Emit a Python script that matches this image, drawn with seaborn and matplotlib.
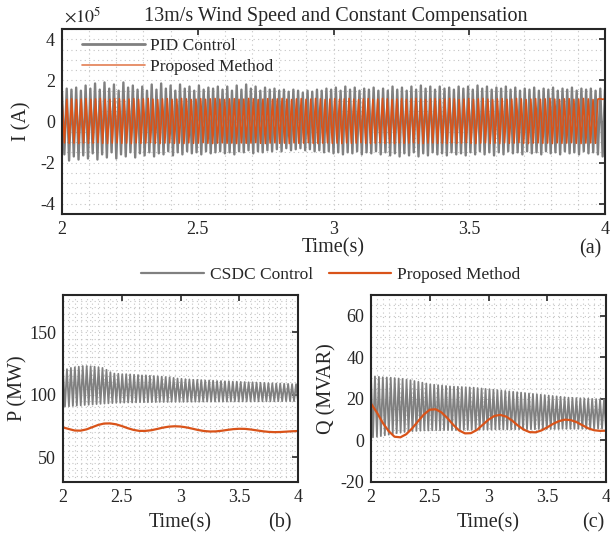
import numpy as np
import pandas as pd
import matplotlib
matplotlib.use("Agg")
import matplotlib.pyplot as plt
import seaborn as sns
from itertools import zip_longest
from matplotlib.ticker import MultipleLocator, FormatStrFormatter

# ---- data (peaks / troughs of each oscillation) ----
# (a) line current, units of 1e5 A, one peak and one trough per cycle
i_pid_hi = [1.45, 1.6, 1.55, 1.65, 1.5, 1.75, 1.6, 1.85, 1.55, 1.9, 1.6, 1.8, 1.5, 1.9, 1.65, 1.75, 1.55,
            1.7, 1.5, 1.8, 1.55, 1.85, 1.6, 1.75, 1.5, 1.8, 1.6, 1.7, 1.5, 1.75, 1.55, 1.65, 1.6, 1.7,
            1.55, 1.7, 1.5, 1.75, 1.55, 1.8, 1.6, 1.7, 1.5, 1.65, 1.55, 1.6, 1.5, 1.55, 1.45, 1.55, 1.5,
            1.4, 1.5, 1.45, 1.55, 1.5, 1.6, 1.55, 1.65, 1.5, 1.7, 1.55, 1.65, 1.5, 1.6, 1.55, 1.65, 1.5,
            1.6, 1.5, 1.7, 1.55, 1.65, 1.5, 1.7, 1.55, 1.75, 1.6, 1.7, 1.55, 1.7, 1.6, 1.65, 1.55, 1.7,
            1.6, 1.7, 1.55, 1.75, 1.6, 1.7, 1.55, 1.65, 1.6, 1.7, 1.55, 1.65, 1.5, 1.6, 1.55, 1.65, 1.5,
            1.6, 1.55, 1.65, 1.5, 1.6, 1.55, 1.65, 1.5, 1.6, 1.55, 1.6, 1.5, 1.6, 1.55]
i_pid_lo = [-1.6, -1.9, -1.7, -1.85, -1.65, -1.8, -1.55, -1.85, -1.6, -1.75, -1.5, -1.8, -1.6, -1.7, -1.5, -1.75, -1.55,
            -1.65, -1.5, -1.7, -1.55, -1.6, -1.45, -1.65, -1.5, -1.6, -1.45, -1.55, -1.5, -1.6, -1.45, -1.55, -1.5,
            -1.45, -1.55, -1.5, -1.6, -1.45, -1.5, -1.4, -1.55, -1.45, -1.5, -1.4, -1.45, -1.35, -1.45, -1.3, -1.4, -1.35,
            -1.3, -1.4, -1.35, -1.45, -1.4, -1.5, -1.45, -1.55, -1.5, -1.6, -1.5, -1.55, -1.45, -1.6, -1.5, -1.55, -1.45,
            -1.6, -1.5, -1.65, -1.55, -1.7, -1.55, -1.65, -1.5, -1.7, -1.55, -1.65, -1.5, -1.6, -1.55, -1.65, -1.5, -1.6,
            -1.55, -1.65, -1.5, -1.6, -1.45, -1.6, -1.5, -1.65, -1.5, -1.6, -1.45, -1.55, -1.5, -1.6, -1.45, -1.55, -1.5,
            -1.6, -1.45, -1.55, -1.5, -1.6, -1.45, -1.55, -1.5, -1.6, -1.45, -1.55, -1.5, -1.6, -1.7]
i_prop_hi = [1.05, 1.08, 1.10, 1.07, 1.09, 1.11, 1.08, 1.10, 1.12, 1.09, 1.08, 1.11, 1.10, 1.07, 1.09, 1.11, 1.08,
             1.10, 1.12, 1.09, 1.07, 1.10, 1.11, 1.08, 1.09, 1.12, 1.10, 1.07, 1.09, 1.11, 1.08, 1.10, 1.12, 1.09,
             1.07, 1.10, 1.11, 1.08, 1.09, 1.12, 1.10, 1.07, 1.09, 1.11, 1.08, 1.10, 1.12, 1.09, 1.07, 1.10, 1.11,
             1.08, 1.09, 1.12, 1.10, 1.07, 1.09, 1.11, 1.08, 1.10, 1.12, 1.09, 1.07, 1.10, 1.11, 1.08, 1.09, 1.12,
             1.10, 1.07, 1.09, 1.11, 1.08, 1.10, 1.12, 1.09, 1.07, 1.10, 1.11, 1.08, 1.09, 1.12, 1.10, 1.07, 1.09,
             1.11, 1.08, 1.10, 1.12, 1.09, 1.07, 1.10, 1.11, 1.08, 1.09, 1.12, 1.10, 1.07, 1.09, 1.11, 1.08, 1.10,
             1.12, 1.09, 1.07, 1.10, 1.11, 1.08, 1.09, 1.12, 1.10, 1.07, 1.09, 1.11, 1.08, 1.10]
i_prop_lo = [-1.04, -1.06, -1.05, -1.07, -1.04, -1.06, -1.05, -1.03, -1.06, -1.07, -1.05, -1.04, -1.06, -1.05, -1.07, -1.04, -1.06,
             -1.05, -1.03, -1.06, -1.07, -1.05, -1.04, -1.06, -1.05, -1.07, -1.04, -1.06, -1.05, -1.03, -1.06, -1.07, -1.05,
             -1.04, -1.06, -1.05, -1.07, -1.04, -1.06, -1.05, -1.03, -1.06, -1.07, -1.05, -1.04, -1.06, -1.05, -1.07, -1.04,
             -1.06, -1.05, -1.03, -1.06, -1.07, -1.05, -1.04, -1.06, -1.05, -1.07, -1.04, -1.06, -1.05, -1.03, -1.06, -1.07,
             -1.05, -1.04, -1.06, -1.05, -1.07, -1.04, -1.06, -1.05, -1.03, -1.06, -1.07, -1.05, -1.04, -1.06, -1.05, -1.07,
             -1.04, -1.06, -1.05, -1.03, -1.06, -1.07, -1.05, -1.04, -1.06, -1.05, -1.07, -1.04, -1.06, -1.05, -1.03, -1.06,
             -1.07, -1.05, -1.04, -1.06, -1.05, -1.07, -1.04, -1.06, -1.05, -1.03, -1.06, -1.07, -1.05, -1.04, -1.06]

# (b) active power, MW
p_csdc_hi = [119, 120.5, 121.5, 122, 122.5, 123, 123, 122.8, 122.5, 122,
             121.5, 120, 118, 117, 116.8, 116.5, 116.5, 116.3, 116, 115.8,
             115.5, 115.5, 115.2, 115, 114.8, 114.5, 114.2, 114, 113.5, 113,
             112.8, 112.5, 112.3, 112, 112, 111.8, 111.5, 111.5, 111.3, 111,
             111, 110.8, 110.8, 110.5, 110.5, 110.3, 110.2, 110, 110, 109.8,
             109.6, 109.5, 109.3, 109.2, 109, 109, 108.8, 108.7, 108.5, 108.5]
p_csdc_lo = [90.5, 90.8, 91, 91.3, 91.5, 91.8, 92, 92.2, 92.5, 92.7,
             92.9, 93.1, 93.3, 93.5, 93.6, 93.7, 93.8, 93.8, 93.9, 94,
             94, 94, 94.1, 94.1, 94.2, 94.2, 94.2, 94.3, 94.3, 94.3,
             94.3, 94.4, 94.4, 94.4, 94.4, 94.5, 94.5, 94.5, 94.5, 94.5,
             94.5, 94.5, 94.6, 94.6, 94.6, 94.6, 94.6, 94.6, 94.7, 94.7,
             94.7, 94.7, 94.7, 94.7, 94.8, 94.8, 94.8, 94.8, 94.8, 94.8]
# smooth curves sampled every 0.05 s from 2 s to 4 s
p_prop = [73.8, 72.5, 71.3, 71.2, 72.2, 74.0, 75.8, 76.9, 77.0, 76.3, 74.9, 73.2, 71.8, 71.0,
          71.0, 71.5, 72.5, 73.6, 74.4, 74.7, 74.5, 73.8, 72.8, 71.7, 70.9, 70.5, 70.6, 71.1,
          71.8, 72.4, 72.7, 72.6, 72.1, 71.4, 70.7, 70.2, 70.0, 70.1, 70.4, 70.7, 70.9]

# (c) reactive power, MVAR
q_csdc_hi = [31, 30.8, 30.6, 30.4, 30.3, 30.2, 30, 29.8, 29.6, 29.3,
             29, 28.6, 28.2, 27.8, 27.4, 27, 26.8, 26.6, 26.4, 26.2,
             26, 25.9, 25.8, 25.7, 25.6, 25.5, 25.4, 25.2, 25, 24.8,
             24.6, 24.4, 24.2, 24, 23.8, 23.6, 23.4, 23.2, 23, 22.8,
             22.6, 22.4, 22.2, 22, 21.8, 21.6, 21.4, 21.2, 21, 20.8,
             20.6, 20.5, 20.4, 20.3, 20.2, 20.1, 20, 19.9, 19.8, 19.7]
q_csdc_lo = [1.5, 1.8, 2.1, 2.5, 2.8, 3.2, 3.5, 3.8, 4.1, 4.3,
             4.5, 4.6, 4.7, 4.8, 4.8, 4.9, 4.9, 4.9, 5, 5,
             5, 5, 5.1, 5.1, 5.1, 5.1, 5.2, 5.2, 5.2, 5.2,
             5.2, 5.3, 5.3, 5.3, 5.3, 5.3, 5.4, 5.4, 5.4, 5.4,
             5.4, 5.4, 5.5, 5.5, 5.5, 5.5, 5.5, 5.5, 5.6, 5.6,
             5.6, 5.6, 5.6, 5.6, 5.6, 5.7, 5.7, 5.7, 5.7, 5.7]
q_prop = [17.7, 13.5, 8.5, 4.5, 1.8, 1.5, 3.0, 5.8, 9.2, 12.5, 14.8, 15.0, 13.5, 10.8,
          7.5, 4.8, 3.4, 3.5, 5.0, 7.5, 10.0, 11.8, 12.3, 11.5, 9.6, 7.2, 5.2, 4.0,
          3.9, 4.8, 6.3, 8.0, 9.3, 10.0, 9.8, 8.8, 7.3, 5.8, 4.9, 4.6, 4.7]

T0, T1 = 2.0, 4.0
GRAY = "#808080"
ORANGE = "#D95319"


def zigzag(hi, lo):
    # alternate peak / trough vertices, evenly spread over the time window
    y = [v for pair in zip_longest(hi, lo) for v in pair if v is not None]
    t = np.linspace(T0, T1, len(y))
    return pd.DataFrame({"t": t, "y": y})


def smooth(vals):
    return pd.DataFrame({"t": np.linspace(T0, T1, len(vals)), "y": vals})


sns.set_style("white")
plt.rcParams["font.family"] = ["Liberation Serif", "DejaVu Serif"]
plt.rcParams["mathtext.fontset"] = "stix"
plt.rcParams["axes.unicode_minus"] = False

fig = plt.figure(figsize=(6.1, 5.39), dpi=100)
ax_a = fig.add_axes([62 / 610, 1 - 214 / 539, 543 / 610, 185 / 539])
ax_b = fig.add_axes([63 / 610, 1 - 482 / 539, 235 / 610, 187 / 539])
ax_c = fig.add_axes([371 / 610, 1 - 482 / 539, 235 / 610, 187 / 539])


def style(ax, xminor, ymajor, yminor):
    ax.set_xlim(T0, T1)
    ax.xaxis.set_major_locator(MultipleLocator(0.5))
    ax.xaxis.set_minor_locator(MultipleLocator(xminor))
    ax.yaxis.set_major_locator(MultipleLocator(ymajor))
    ax.yaxis.set_minor_locator(MultipleLocator(yminor))
    ax.xaxis.set_major_formatter(FormatStrFormatter("%g"))
    ax.yaxis.set_major_formatter(FormatStrFormatter("%g"))
    ax.grid(True, which="both", ls=(0, (1, 3)), color="#c4c4c4", lw=0.8)
    ax.set_axisbelow(True)
    ax.tick_params(which="major", direction="in", length=4, width=1.2,
                   top=True, right=True, labelsize=13, pad=5, colors="#262626")
    ax.tick_params(which="minor", length=0)
    for s in ax.spines.values():
        s.set_linewidth(1.5)
        s.set_color("#262626")
    ax.xaxis.label.set_va("center")
    ax.yaxis.label.set_va("center")


# (a)
a_pid = zigzag(i_pid_hi, i_pid_lo)
a_prop = zigzag(i_prop_hi, i_prop_lo)
sns.lineplot(data=a_pid, x="t", y="y", ax=ax_a, color=GRAY, lw=1.7,
             estimator=None, sort=False, label="PID Control")
sns.lineplot(data=a_prop, x="t", y="y", ax=ax_a, color=ORANGE, lw=1.2,
             estimator=None, sort=False, label="Proposed Method")
ax_a.set_ylim(-4.5, 4.5)
style(ax_a, 0.1, 2, 0.5)
ax_a.set_xlabel("Time(s)", fontsize=14.5)
ax_a.set_ylabel("I (A)", fontsize=14.5)
ax_a.xaxis.set_label_coords(0.5, -0.184)
ax_a.yaxis.set_label_coords(-0.074, 0.5)
leg = ax_a.legend(loc="upper left", frameon=False, fontsize=12.5, handlelength=3.6,
                  handletextpad=0.3, labelspacing=0.3, borderaxespad=0.3,
                  bbox_to_anchor=(0.015, 1.02))
leg.get_lines()[0].set_linewidth(2.0)
leg.get_lines()[1].set_linewidth(1.2)
leg.get_lines()[1].set_alpha(0.75)

# (b)
b_csdc = zigzag(p_csdc_hi, p_csdc_lo)
b_prop = smooth(p_prop)
sns.lineplot(data=b_csdc, x="t", y="y", ax=ax_b, color=GRAY, lw=1.3,
             estimator=None, sort=False, label="CSDC Control", legend=False)
sns.lineplot(data=b_prop, x="t", y="y", ax=ax_b, color=ORANGE, lw=1.6,
             estimator=None, sort=False, label="Proposed Method", legend=False)
ax_b.set_ylim(30, 180)
style(ax_b, 0.05, 50, 5)
ax_b.set_xlabel("Time(s)", fontsize=14.5)
ax_b.set_ylabel("P (MW)", fontsize=14.5)
ax_b.xaxis.set_label_coords(0.5, -0.219)
ax_b.yaxis.set_label_coords(-0.191, 0.5)

# (c)
c_csdc = zigzag(q_csdc_hi, q_csdc_lo)
c_prop = smooth(q_prop)
sns.lineplot(data=c_csdc, x="t", y="y", ax=ax_c, color=GRAY, lw=1.3,
             estimator=None, sort=False, legend=False)
sns.lineplot(data=c_prop, x="t", y="y", ax=ax_c, color=ORANGE, lw=1.6,
             estimator=None, sort=False, legend=False)
ax_c.set_ylim(-20, 70)
style(ax_c, 0.05, 20, 5)
ax_c.set_xlabel("Time(s)", fontsize=14.5)
ax_c.set_ylabel("Q (MVAR)", fontsize=14.5)
ax_c.xaxis.set_label_coords(0.5, -0.219)
ax_c.yaxis.set_label_coords(-0.187, 0.5)

handles, labels = ax_b.get_legend_handles_labels()
fleg = fig.legend(handles, labels, loc="center", ncol=2, frameon=False, fontsize=12.5,
                  handlelength=3.6, handletextpad=0.35, columnspacing=0.9,
                  bbox_to_anchor=(331 / 610, 1 - 275 / 539))
for ln in fleg.get_lines():
    ln.set_linewidth(1.6)

fig.text(336 / 610, 1 - 16 / 539, "13m/s Wind Speed and Constant Compensation",
         ha="center", va="center", fontsize=14.5)
fig.text(64 / 610, 1 - 16 / 539, r"$\times10^{5}$", ha="left", va="center", fontsize=13)
fig.text(590 / 610, 1 - 249 / 539, "(a)", ha="center", va="center", fontsize=14.5)
fig.text(280 / 610, 1 - 523 / 539, "(b)", ha="center", va="center", fontsize=14.5)
fig.text(593 / 610, 1 - 523 / 539, "(c)", ha="center", va="center", fontsize=14.5)

fig.savefig("out.png", dpi=100)
